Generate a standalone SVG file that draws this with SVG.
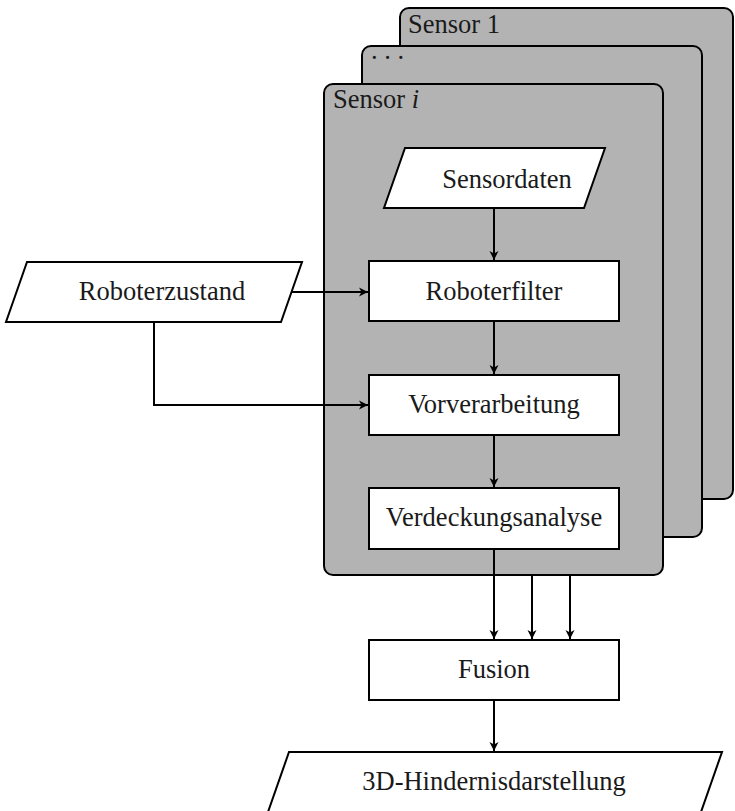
<svg xmlns="http://www.w3.org/2000/svg" width="735" height="811" viewBox="0 0 735 811">
<style>
.panel{fill:#b3b3b3;stroke:#000;stroke-width:2}
.box{fill:#fff;stroke:#000;stroke-width:2}
.t{font-family:"Liberation Serif","Times New Roman",serif;font-size:26.5px;fill:#1a1a1a}
.c{text-anchor:middle}
.edge{fill:none;stroke:#000;stroke-width:2}
</style>
<defs>
<marker id="ah" markerUnits="userSpaceOnUse" markerWidth="12" markerHeight="12" viewBox="-10 -6 12 12" refX="0" refY="0" orient="auto">
<path d="M0,0 L-9,-4.5 L-6.5,0 L-9,4.5 Z" fill="#000"/>
</marker>
</defs>
<g id="sensor1">
<rect class="panel" x="400" y="8" width="333" height="491" rx="9"/>
<text class="t" x="408" y="33">Sensor 1</text>
</g>
<g id="sensordots">
<rect class="panel" x="362" y="46" width="340" height="491" rx="9"/>
<text class="t" x="371" y="59">. . .</text>
</g>
<g id="sensori">
<rect class="panel" x="324" y="84" width="339" height="491" rx="9"/>
<text class="t" x="333" y="108">Sensor <tspan font-style="italic">i</tspan></text>
</g>
<g id="connectors">
<path class="edge" d="M494,208 L494,260" marker-end="url(#ah)"/>
<path class="edge" d="M291,292 L368,292" marker-end="url(#ah)"/>
<path class="edge" d="M154,322 L154,405 L368,405" marker-end="url(#ah)"/>
<path class="edge" d="M494,321 L494,374" marker-end="url(#ah)"/>
<path class="edge" d="M494,435 L494,487" marker-end="url(#ah)"/>
<path class="edge" d="M494,549 L494,639" marker-end="url(#ah)"/>
<path class="edge" d="M532,575 L532,639" marker-end="url(#ah)"/>
<path class="edge" d="M570,575 L570,639" marker-end="url(#ah)"/>
<path class="edge" d="M494,700 L494,751" marker-end="url(#ah)"/>
</g>
<g id="sensordaten">
<polygon class="box" points="405,148 605,148 584,208 384,208"/>
<text class="t c" x="507" y="188">Sensordaten</text>
</g>
<g id="roboterzustand">
<polygon class="box" points="27,262 302,262 281,322 6,322"/>
<text class="t c" x="162" y="300">Roboterzustand</text>
</g>
<g id="roboterfilter">
<rect class="box" x="369" y="261" width="250" height="60"/>
<text class="t c" x="494" y="300">Roboterfilter</text>
</g>
<g id="vorverarbeitung">
<rect class="box" x="369" y="375" width="250" height="60"/>
<text class="t c" x="494" y="413">Vorverarbeitung</text>
</g>
<g id="verdeckungsanalyse">
<rect class="box" x="369" y="488" width="250" height="61"/>
<text class="t c" x="494" y="526">Verdeckungsanalyse</text>
</g>
<g id="fusion">
<rect class="box" x="369" y="640" width="250" height="60"/>
<text class="t c" x="494" y="678">Fusion</text>
</g>
<g id="hindernis">
<polygon class="box" points="289,752 722,752 701,812 268,812"/>
<text class="t c" x="494" y="790">3D-Hindernisdarstellung</text>
</g>
</svg>
